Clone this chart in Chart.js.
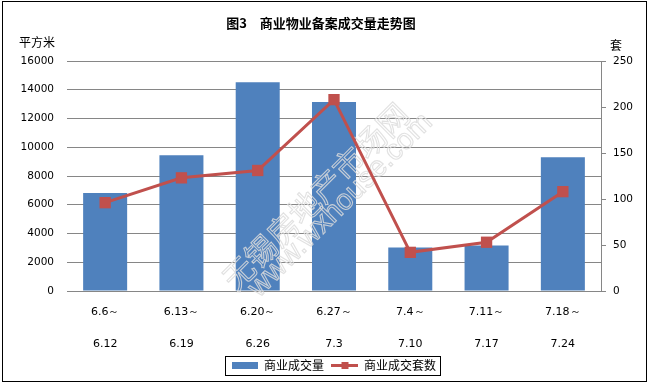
<!DOCTYPE html>
<html>
<head>
<meta charset="utf-8">
<script src="https://cdn.jsdelivr.net/npm/chart.js@4.4.0/dist/chart.umd.min.js"></script>
<style>
  html, body { margin: 0; padding: 0; background: #fff; }
  canvas { display: block; }
</style>
</head>
<body>
<canvas id="myChart" width="649" height="385"></canvas>
<script>
// weekly ranges, two lines each
var weeks = [
  ['6.6～', '6.12'],
  ['6.13～', '6.19'],
  ['6.20～', '6.26'],
  ['6.27～', '7.3'],
  ['7.4～', '7.10'],
  ['7.11～', '7.17'],
  ['7.18～', '7.24']
];
var areaSold = [6810, 9440, 14530, 13140, 3030, 3170, 9310]; // 平方米
var unitsSold = [96, 123, 131, 208, 42, 53, 108]; // 套
var areaMax = 16000, areaStep = 2000;
var unitsMax = 250, unitsStep = 50;

var BLUE = '#4F81BD';
var RED = '#C0504D';
var GRID = '#868686';
var numFont = "'DejaVu Sans', sans-serif";
var cjkFont = "'Noto Sans CJK SC', sans-serif";

// legend icons
function barIcon() {
  var c = document.createElement('canvas');
  c.width = 26; c.height = 7;
  var g = c.getContext('2d');
  g.fillStyle = BLUE;
  g.fillRect(0, 0, 26, 7);
  return c;
}
function lineIcon() {
  var c = document.createElement('canvas');
  c.width = 27; c.height = 9;
  var g = c.getContext('2d');
  g.strokeStyle = RED;
  g.lineWidth = 3;
  g.beginPath(); g.moveTo(0, 4.5); g.lineTo(27, 4.5); g.stroke();
  g.fillStyle = RED;
  g.fillRect(10, 1, 7, 7);
  return c;
}

function plain(v) { return String(v); }

var decor = {
  id: 'decor',
  afterDatasetDraw: function(chart, args) {
    if (args.meta.type !== 'bar') return;
    // faint watermark
    var ctx = chart.ctx;
    ctx.save();
    ctx.translate(228, 284);
    ctx.rotate(-Math.PI / 4);
    ctx.strokeStyle = 'rgba(220,220,220,0.85)';
    ctx.lineWidth = 1.1;
    ctx.font = '31px ' + cjkFont;
    ctx.strokeText('无锡房地产市场网', 0, 0);
    ctx.font = '29px ' + "'Liberation Sans', sans-serif";
    ctx.strokeText('www.wxhouse.com', 12, 24);
    ctx.restore();
  },
  afterDraw: function(chart) {
    var ctx = chart.ctx;
    ctx.save();
    ctx.fillStyle = '#000';
    ctx.textAlign = 'center';
    ctx.textBaseline = 'middle';
    ctx.font = 'bold 13px ' + cjkFont;
    ctx.fillText('图3　商业物业备案成交量走势图', 321, 23);
    ctx.font = '12px ' + cjkFont;
    ctx.fillText('平方米', 37, 42);
    ctx.fillText('套', 616, 45);

    // legend frame
    var lg = chart.legend;
    if (lg && lg.legendHitBoxes.length) {
      var hb = lg.legendHitBoxes;
      var l = hb[0].left, r = hb[hb.length - 1].left + hb[hb.length - 1].width;
      var t = hb[0].top;
      ctx.strokeStyle = '#000';
      ctx.lineWidth = 1;
      ctx.strokeRect(Math.round(l - 7) + 0.5, Math.round(t - 4) + 0.5, Math.round(r - l + 11), 19);
    }

    // outer frame
    ctx.strokeStyle = '#000';
    ctx.lineWidth = 1;
    ctx.strokeRect(2.5, 1.5, 644, 380);
    ctx.restore();
  }
};

var ctx = document.getElementById('myChart').getContext('2d');
var myChart = new Chart(ctx, {
  type: 'bar',
  data: {
    labels: weeks,
    datasets: [{
      type: 'bar',
      label: '商业成交量',
      data: areaSold,
      backgroundColor: BLUE,
      borderWidth: 0,
      barPercentage: 0.577,
      categoryPercentage: 1,
      yAxisID: 'y',
      order: 2
    }, {
      type: 'line',
      label: '商业成交套数',
      data: unitsSold,
      borderColor: RED,
      borderWidth: 3,
      backgroundColor: RED,
      pointStyle: 'rect',
      pointRadius: 8,
      pointBorderWidth: 0,
      pointBackgroundColor: RED,
      tension: 0,
      yAxisID: 'y1',
      order: 1
    }]
  },
  options: {
    responsive: false,
    animation: false,
    layout: {
      padding: { top: 61, bottom: 3.5, left: 0, right: 0 }
    },
    scales: {
      x: {
        grid: { display: false, drawTicks: false },
        border: { display: true, color: GRID, width: 1 },
        ticks: {
          color: '#000',
          padding: 5,
          maxRotation: 0,
          autoSkip: false,
          font: { size: 11, family: numFont, lineHeight: '32px' }
        },
        afterFit: function(s) { s.height = 60.5; }
      },
      y: {
        position: 'left',
        min: 0,
        max: areaMax,
        grid: { color: GRID, drawTicks: false },
        border: { display: false },
        ticks: {
          stepSize: areaStep,
          color: '#000',
          padding: 13,
          font: { size: 10.5, family: numFont },
          callback: plain
        },
        afterFit: function(s) { s.width = 67; }
      },
      y1: {
        position: 'right',
        min: 0,
        max: unitsMax,
        grid: { drawOnChartArea: false, color: GRID, tickLength: 5 },
        border: { display: true, color: GRID, width: 1 },
        ticks: {
          stepSize: unitsStep,
          color: '#000',
          padding: 7,
          font: { size: 10.5, family: numFont },
          callback: plain
        },
        afterFit: function(s) { s.width = 48; }
      }
    },
    plugins: {
      title: { display: false },
      tooltip: { enabled: false },
      legend: {
        position: 'bottom',
        fullSize: false,
        labels: {
          usePointStyle: true,
          pointStyleWidth: 26,
          padding: 8,
          color: '#000',
          font: { size: 12, family: cjkFont },
          generateLabels: function() {
            return [
              { text: '商业成交量', pointStyle: barIcon(), datasetIndex: 0, lineWidth: 0, strokeStyle: 'rgba(0,0,0,0)', fillStyle: BLUE, fontColor: '#000' },
              { text: '商业成交套数', pointStyle: lineIcon(), datasetIndex: 1, lineWidth: 0, strokeStyle: 'rgba(0,0,0,0)', fillStyle: RED, fontColor: '#000' }
            ];
          }
        }
      }
    }
  },
  plugins: [decor]
});
</script>
</body>
</html>
